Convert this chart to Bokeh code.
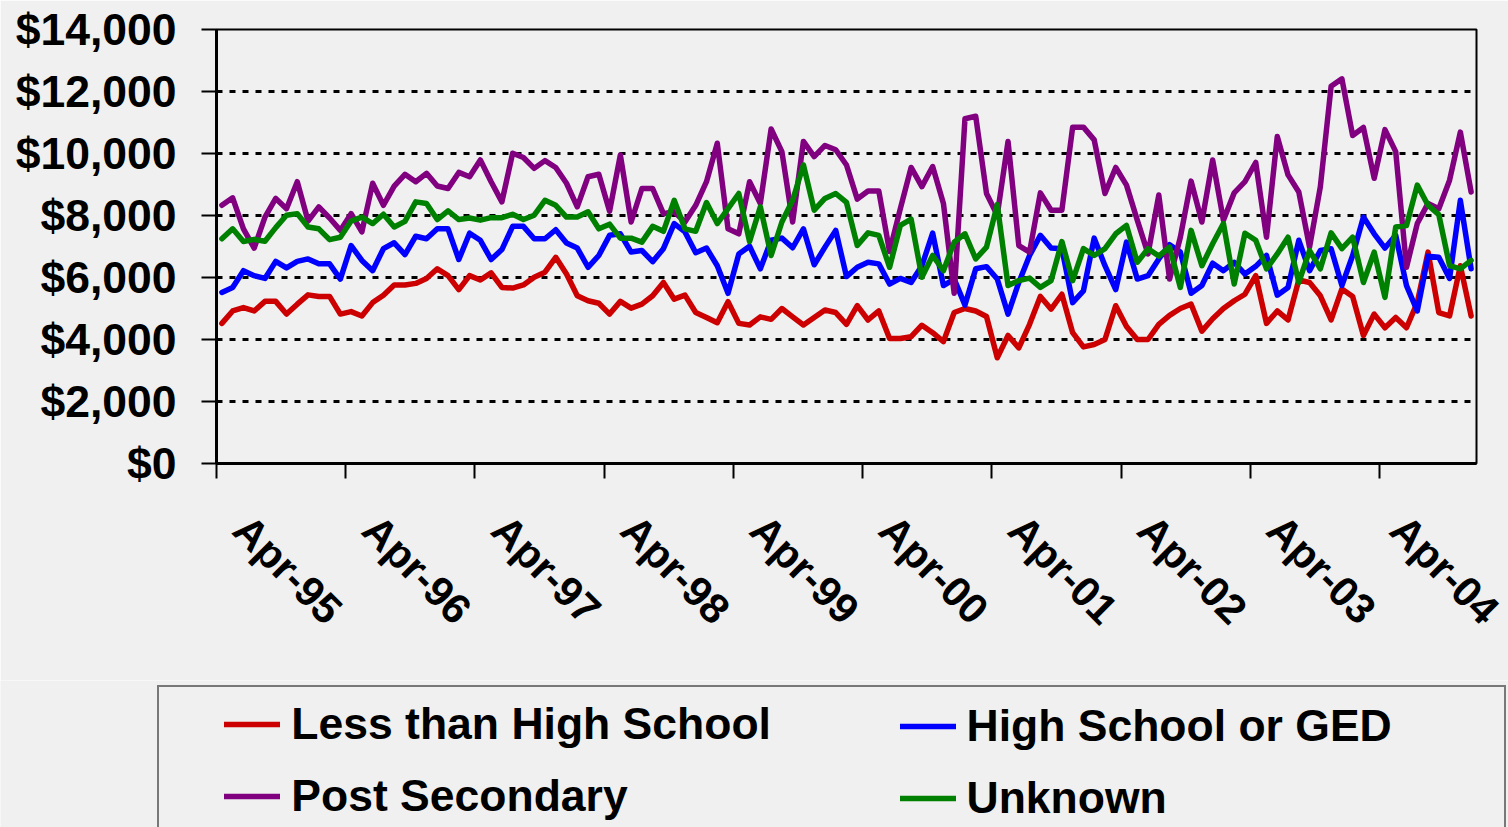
import math
from bokeh.plotting import figure
from bokeh.layouts import column
from bokeh.models import (Range1d, FixedTicker, NumeralTickFormatter, Legend, LegendItem)
from bokeh.embed import file_html
from bokeh.resources import INLINE

# ---------------- data (monthly, Apr-95 .. Dec-04) ----------------
tick_labels = ["Apr-95", "Apr-96", "Apr-97", "Apr-98", "Apr-99",
               "Apr-00", "Apr-01", "Apr-02", "Apr-03", "Apr-04"]

series_names = ["Less than High School", "High School or GED", "Post Secondary", "Unknown"]

less_than_hs = [
    4520, 4920, 5030, 4920, 5230, 5230, 4820, 5140, 5440, 5390, 5390, 4820,
    4900, 4760, 5190, 5430, 5760, 5760, 5810, 5970, 6280, 6060, 5610, 6060,
    5920, 6150, 5680, 5660, 5760, 6010, 6170, 6650, 6110, 5410, 5250, 5170,
    4820, 5230, 5010, 5140, 5410, 5840, 5300, 5430, 4870, 4710, 4540, 5220,
    4520, 4470, 4730, 4650, 5000, 4730, 4470, 4710, 4950, 4870, 4490, 5090,
    4630, 4920, 4030, 4030, 4090, 4460, 4220, 3930, 4870, 5000, 4920, 4740,
    3410, 4130, 3730, 4490, 5390, 4980, 5460, 4220, 3760, 3840, 4000, 5090,
    4420, 4000, 4000, 4490, 4780, 5000, 5140, 4270, 4670, 5000, 5250, 5460,
    6060, 4520, 4920, 4630, 5920, 5840, 5410, 4630, 5630, 5390, 4130, 4820,
    4380, 4710, 4380, 5190, 6820, 4870, 4760, 6380, 4760]

hs_or_ged = [
    5520, 5680, 6220, 6060, 5970, 6520, 6310, 6520, 6600, 6440, 6440, 5950,
    7030, 6550, 6220, 6930, 7120, 6740, 7330, 7250, 7570, 7570, 6580, 7430,
    7200, 6580, 6900, 7650, 7650, 7250, 7250, 7540, 7110, 6950, 6330, 6710,
    7360, 7410, 6820, 6870, 6510, 6930, 7740, 7470, 6800, 6950, 6380, 5490,
    6760, 7010, 6280, 7200, 7270, 6960, 7570, 6410, 6980, 7520, 6030, 6330,
    6490, 6440, 5790, 5970, 5840, 6380, 7430, 5740, 5950, 5110, 6280, 6350,
    5950, 4820, 5840, 6710, 7360, 6950, 6930, 5190, 5570, 7270, 6380, 5610,
    7140, 5950, 6060, 6600, 7060, 6820, 5490, 5740, 6460, 6220, 6490, 6110,
    6360, 6710, 5430, 5680, 7200, 6220, 6870, 6930, 5740, 6710, 7950, 7410,
    6950, 7360, 5740, 4920, 6690, 6650, 5970, 8490, 6280]

post_secondary = [
    8330, 8570, 7570, 6950, 7950, 8550, 8220, 9090, 7820, 8280, 7920, 7520,
    8060, 7470, 9040, 8330, 8950, 9330, 9090, 9360, 8950, 8870, 9390, 9250,
    9790, 9090, 8440, 10010, 9870, 9520, 9770, 9550, 9040, 8280, 9250, 9330,
    8140, 9950, 7790, 8870, 8870, 8060, 8120, 7790, 8330, 9090, 10330, 7570,
    7410, 9090, 8390, 10790, 10060, 7790, 10390, 9900, 10260, 10120, 9630, 8530,
    8790, 8790, 6840, 8220, 9550, 8930, 9580, 8390, 5490, 11120, 11200, 8710,
    8010, 10390, 7030, 6820, 8730, 8170, 8170, 10850, 10850, 10440, 8710, 9550,
    8980, 7850, 6760, 8660, 5950, 7300, 9110, 7790, 9790, 7850, 8730, 9090,
    9710, 7300, 10550, 9310, 8760, 6980, 8930, 12170, 12410, 10580, 10840, 9200,
    10770, 10060, 6330, 7740, 8390, 8220, 9140, 10690, 8760]

unknown = [
    7250, 7570, 7160, 7230, 7170, 7610, 8010, 8060, 7630, 7570, 7220, 7300,
    7820, 7950, 7740, 8040, 7630, 7810, 8440, 8390, 7870, 8150, 7870, 7920,
    7850, 7930, 7930, 8040, 7870, 8010, 8490, 8330, 7950, 7950, 8120, 7570,
    7720, 7270, 7270, 7140, 7650, 7490, 8490, 7570, 7490, 8420, 7740, 8220,
    8710, 7160, 8280, 6710, 7790, 8490, 9630, 8170, 8550, 8710, 8420, 7030,
    7440, 7360, 6330, 7680, 7880, 6010, 6710, 6220, 7140, 7410, 6600, 6980,
    8350, 5740, 5900, 5980, 5680, 5900, 7160, 5900, 6930, 6710, 6930, 7410,
    7680, 6490, 6930, 6690, 6980, 5680, 7520, 6380, 7090, 7740, 5790, 7430,
    7200, 6280, 6760, 7300, 5840, 6870, 6280, 7440, 6930, 7300, 5840, 6820,
    5360, 7630, 7680, 8980, 8330, 8030, 6380, 6280, 6550]

colors = ["#CC0000", "#0000FF", "#800080", "#008000"]
all_series = [less_than_hs, hs_or_ged, post_secondary, unknown]

# ---------------- main chart ----------------
n = len(less_than_hs)
x = [i + 0.5 for i in range(n)]          # category centres
FONT = "Liberation Sans"
BG = "#f0f0f0"

p = figure(width=1508, height=680, output_backend="svg", toolbar_location=None,
           x_range=Range1d(0, n), y_range=Range1d(0, 14000),
           min_border_left=216, min_border_right=32,
           min_border_top=29, min_border_bottom=217)
p.frame_align = False
p.background_fill_color = BG
p.border_fill_color = BG
p.outline_line_color = "black"
p.outline_line_width = 2

# y axis
yax = p.yaxis[0]
yax.ticker = FixedTicker(ticks=list(range(0, 14001, 2000)))
yax.formatter = NumeralTickFormatter(format="$0,0")
yax.axis_line_width = 3
yax.major_tick_out = 15
yax.major_tick_in = 0
yax.major_tick_line_width = 2
yax.minor_tick_line_color = None
yax.major_label_standoff = 25
yax.major_label_text_font = FONT
yax.major_label_text_font_style = "bold"
yax.major_label_text_font_size = "44.5px"
yax.major_label_text_color = "black"

p.ygrid.ticker = FixedTicker(ticks=list(range(2000, 12001, 2000)))
p.ygrid.grid_line_color = "black"
p.ygrid.grid_line_dash = "6 7"
p.ygrid.grid_line_width = 3
p.xgrid.visible = False

# x axis: labels on major ticks, tick marks (minor) on year boundaries
label_pos = [12 * k + 2.25 for k in range(len(tick_labels))]
boundaries = [12 * k for k in range(len(tick_labels))]
xax = p.xaxis[0]
xax.ticker = FixedTicker(ticks=label_pos, minor_ticks=boundaries)
xax.major_label_overrides = {pos: lab for pos, lab in zip(label_pos, tick_labels)}
xax.axis_line_width = 3
xax.major_tick_out = 0
xax.major_tick_in = 0
xax.major_tick_line_color = None
xax.minor_tick_out = 15
xax.minor_tick_in = 0
xax.minor_tick_line_width = 2
xax.minor_tick_line_color = "black"
xax.major_label_orientation = -math.pi / 4
xax.major_label_standoff = 44
xax.major_label_text_font = FONT
xax.major_label_text_font_style = "bold"
xax.major_label_text_font_size = "42px"
xax.major_label_text_color = "black"

for vals, col in zip(all_series, colors):
    p.line(x, vals, line_color=col, line_width=5.5, line_join="round", line_cap="round")

# ---------------- legend strip ----------------
# same series, drawn against a value range that keeps them out of view:
# only the legend keys of this strip are visible
q = figure(width=1508, height=147, output_backend="svg", toolbar_location=None,
           x_range=Range1d(0, n), y_range=Range1d(20000, 30000),
           x_axis_type=None, y_axis_type=None,
           min_border_left=0, min_border_right=0, min_border_top=0, min_border_bottom=0)
q.frame_align = False
q.background_fill_color = BG
q.border_fill_color = BG
q.outline_line_color = None
q.xgrid.visible = False
q.ygrid.visible = False

keys = [q.line(x, vals, line_color=col, line_width=5.5, line_cap="round")
        for vals, col in zip(all_series, colors)]

common = dict(orientation="vertical", glyph_width=56, glyph_height=72,
              label_height=72, label_standoff=11, spacing=0, margin=0,
              label_text_font=FONT, label_text_font_style="bold",
              label_text_font_size="44.5px", label_text_color="black",
              background_fill_alpha=0)

leg_a = Legend(items=[LegendItem(label=series_names[0], renderers=[keys[0]]),
                      LegendItem(label=series_names[2], renderers=[keys[2]])],
               location=(157.3, -8), padding=1, label_width=1212,
               border_line_color="black", border_line_width=2,
               title=" ", title_location="left", title_text_font_size="10px",
               title_standoff=53, **common)
leg_b = Legend(items=[LegendItem(label=series_names[1], renderers=[keys[1]]),
                      LegendItem(label=series_names[3], renderers=[keys[3]])],
               location=(899.5, -7), padding=0, label_width=10,
               border_line_color=None, **common)
q.add_layout(leg_a)
q.add_layout(leg_b)

layout = column(p, q, spacing=0)
open("out.html", "w").write(file_html(layout, INLINE))
